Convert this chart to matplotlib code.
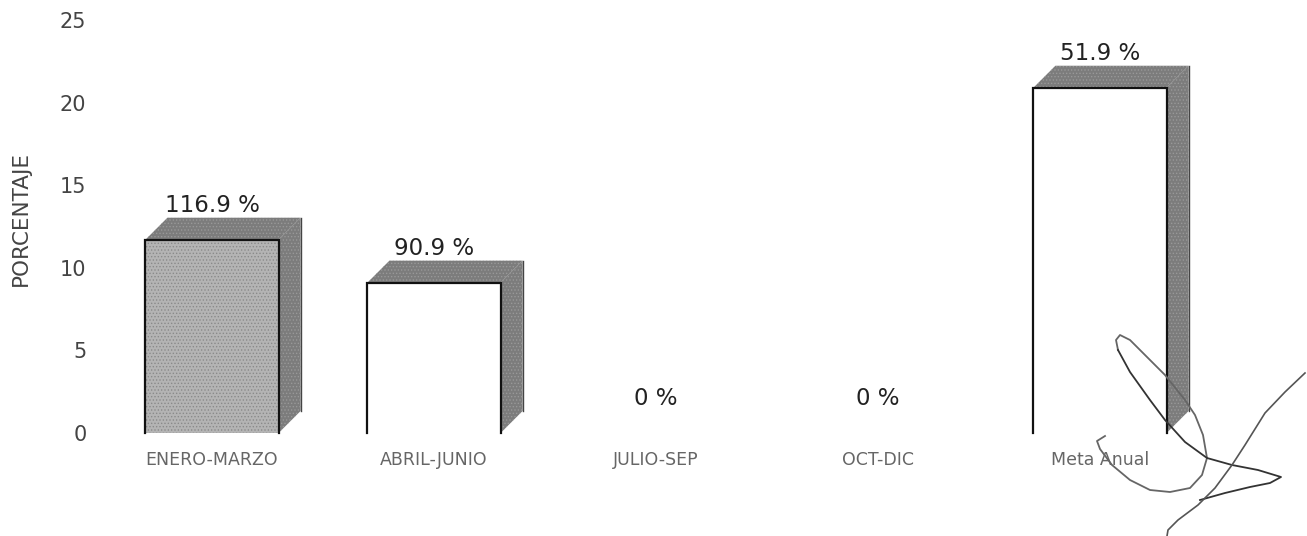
import numpy as np
import matplotlib
matplotlib.use("Agg")
import matplotlib.pyplot as plt
from matplotlib.patches import Polygon
from matplotlib.lines import Line2D

plt.rcParams['font.family'] = ['DejaVu Sans']
plt.rcParams['hatch.linewidth'] = 0.6

categories = ['ENERO-MARZO', 'ABRIL-JUNIO', 'JULIO-SEP', 'OCT-DIC', 'Meta Anual']
values = [11.7, 9.1, 0, 0, 20.9]
value_labels = ['116.9 %', '90.9 %', '0 %', '0 %', '51.9 %']
y_ticks = [0, 5, 10, 15, 20, 25]

W, H = 1307, 536
fig = plt.figure(figsize=(W / 100, H / 100), dpi=100)
# axes placed so categories land on the scanned pixel positions
ax = fig.add_axes([101 / W, 1 - 433 / H, 1110 / W, 413 / H])
ax.set_xlim(-0.5, 4.5)
ax.set_ylim(0, 25)
for s in ax.spines.values():
    s.set_visible(False)

bar_w = 0.6
dx = 22 / 222
dy = 22 / 16.52

for i, (v, lab) in enumerate(zip(values, value_labels)):
    ax.annotate(lab, (i, v), xytext=(0, 24.5), textcoords='offset points',
                ha='center', va='center', fontsize=16.5, color='#222222')
    if v == 0:
        continue
    l, r = i - bar_w / 2, i + bar_w / 2
    face = '#b4b4b4' if i == 0 else 'white'
    ax.bar(i, v, width=bar_w, color=face, linewidth=0,
           hatch='.....' if i == 0 else None, edgecolor='#8a8a8a')
    ax.add_patch(Polygon([(l, v), (l + dx, v + dy), (r + dx, v + dy), (r, v)],
                         facecolor='#7c7c7c', edgecolor='#999999', hatch='.....', linewidth=0))
    ax.add_patch(Polygon([(r, 0), (r + dx, dy), (r + dx, v + dy), (r, v)],
                         facecolor='#7c7c7c', edgecolor='#999999', hatch='.....', linewidth=0))
    ax.plot([r + dx, r + dx], [dy, v + dy], color='#444444', lw=1, zorder=3)
    ax.plot([l, l, r, r], [0, v, v, 0], color='#111111', lw=1.6, clip_on=False,
            solid_joinstyle='miter', zorder=4)

ax.set_xticks(range(5))
ax.set_xticklabels(categories, fontsize=12.5, color='#666666')
ax.set_yticks(y_ticks)
ax.tick_params(axis='both', length=0)
ax.tick_params(axis='x', pad=13)
ax.tick_params(axis='y', labelsize=15, labelcolor='#444444', pad=10.5)
fig.text(21 / W, 1 - 218 / H, 'PORCENTAJE', rotation=90, ha='center', va='center',
         fontsize=15.5, color='#444444')

# pen signature over the last bar
stroke_1 = [(1105, 436), (1097, 441), (1100, 449), (1112, 465), (1130, 480), (1150, 490), (1170, 492),
            (1190, 488), (1202, 475), (1207, 458), (1203, 435), (1195, 415), (1185, 400), (1165, 375),
            (1145, 355), (1130, 340), (1120, 335), (1116, 340), (1118, 350)]
stroke_2 = [(1118, 350), (1130, 372), (1150, 400), (1165, 420), (1185, 442), (1207, 458), (1232, 465),
            (1258, 470), (1281, 477), (1270, 483), (1250, 487), (1225, 493), (1200, 500)]
stroke_3 = [(1305, 373), (1285, 392), (1265, 413), (1245, 445), (1232, 465), (1215, 488),
            (1198, 505), (1178, 520), (1168, 530), (1167, 536)]
for stroke, col, lw in [(stroke_1, '#666666', 1.3), (stroke_2, '#333333', 1.3), (stroke_3, '#555555', 1.2)]:
    xs = [p[0] / W for p in stroke]
    ys = [1 - p[1] / H for p in stroke]
    fig.add_artist(Line2D(xs, ys, color=col, lw=lw, transform=fig.transFigure,
                          solid_joinstyle='round', zorder=6))

fig.savefig('out.png', dpi=100, facecolor='white')
